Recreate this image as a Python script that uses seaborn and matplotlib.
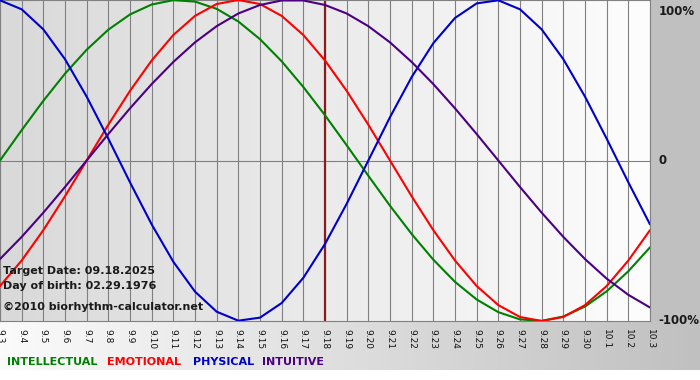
"""Biorhythm chart, 09.03 - 10.03 around target date 09.18.2025."""

import matplotlib.pyplot as plt
from matplotlib.colors import LinearSegmentedColormap
import seaborn as sns
import pandas as pd
import numpy as np

# day labels on the x axis
dates = ["9.3", "9.4", "9.5", "9.6", "9.7", "9.8", "9.9", "9.10", "9.11", "9.12",
         "9.13", "9.14", "9.15", "9.16", "9.17", "9.18", "9.19", "9.20", "9.21",
         "9.22", "9.23", "9.24", "9.25", "9.26", "9.27", "9.28", "9.29", "9.30",
         "10.1", "10.2", "10.3"]

# daily cycle values (fraction of 100%)
physical = [0.998, 0.942, 0.817, 0.631, 0.398, 0.136, -0.136, -0.398, -0.631, -0.817,
            -0.942, -0.998, -0.979, -0.888, -0.731, -0.520, -0.270, 0.0, 0.270, 0.520,
            0.731, 0.888, 0.979, 0.998, 0.942, 0.817, 0.631, 0.398, 0.136, -0.136, -0.398]
emotional = [-0.782, -0.623, -0.434, -0.223, 0.0, 0.223, 0.434, 0.623, 0.782, 0.901,
             0.975, 1.0, 0.975, 0.901, 0.782, 0.623, 0.434, 0.223, 0.0, -0.223,
             -0.434, -0.623, -0.782, -0.901, -0.975, -1.0, -0.975, -0.901, -0.782, -0.623, -0.434]
intellectual = [0.0, 0.189, 0.372, 0.541, 0.690, 0.815, 0.910, 0.972, 0.999, 0.990,
                0.945, 0.866, 0.756, 0.618, 0.458, 0.282, 0.095, -0.095, -0.282, -0.458,
                -0.618, -0.756, -0.866, -0.945, -0.990, -0.999, -0.972, -0.910, -0.815, -0.690, -0.541]
intuitive = [-0.614, -0.476, -0.325, -0.165, 0.0, 0.165, 0.325, 0.476, 0.614, 0.736,
             0.837, 0.916, 0.969, 0.997, 0.997, 0.969, 0.916, 0.837, 0.736, 0.614,
             0.476, 0.325, 0.165, 0.0, -0.165, -0.325, -0.476, -0.614, -0.736, -0.837, -0.916]

target_label = "9.18"
names = ["INTELLECTUAL", "EMOTIONAL", "PHYSICAL", "INTUITIVE"]
colors = {"INTELLECTUAL": "#008000", "EMOTIONAL": "#ff0000",
          "PHYSICAL": "#0000cc", "INTUITIVE": "#4b0082"}

day = list(range(len(dates)))
df = pd.concat([
    pd.DataFrame({"day": day, "value": vals, "rhythm": name})
    for name, vals in zip(names, [intellectual, emotional, physical, intuitive])
])

sns.set_style("white")
plt.rcParams["font.family"] = ["DejaVu Sans"]

W, H = 700, 380
fig = plt.figure(figsize=(W / 100, H / 100), dpi=100, facecolor="#c0c0c0")

# white bottom band and grey gradient strip under the plot
fig.patches.append(plt.Rectangle((0, 0), 1, 10 / H, transform=fig.transFigure,
                                 color="white", zorder=-3))
strip = fig.add_axes([0, 10 / H, 1, 49 / H], zorder=-2)
strip.imshow(np.linspace(0, 1, 256)[None, :], aspect="auto", extent=(0, 1, 0, 1),
             cmap=LinearSegmentedColormap.from_list("s", ["#fbfbfb", "#c0c0c0"]))
strip.axis("off")

ax = fig.add_axes([0, 59 / H, 650 / W, 321 / H])
ax.imshow(np.linspace(0, 1, 256)[None, :], aspect="auto", extent=(0, day[-1], -1, 1),
          cmap=LinearSegmentedColormap.from_list("p", ["#d9d9d9", "#fdfdfd"]), zorder=0)

sns.lineplot(data=df, x="day", y="value", hue="rhythm", palette=colors,
             hue_order=names, legend=False, lw=1.5, ax=ax, zorder=3)

ax.set_xlim(0, day[-1])
ax.set_ylim(-1, 1)
ax.set_xticks(day)
ax.set_xticklabels(dates, rotation=270, fontsize=6.5, va="top", ha="center",
                   color="#111111")
ax.tick_params(axis="x", length=4, width=1, color="#808080", pad=2)
ax.set_yticks([])
ax.set_xlabel("")
ax.set_ylabel("")
for d in day:
    ax.axvline(d, color="#808080", lw=0.8, zorder=1)
ax.axhline(0, color="#808080", lw=0.8, zorder=1)
for s in ax.spines.values():
    s.set_color("#808080")
    s.set_linewidth(0.8)

ax.axvline(dates.index(target_label), color="#8b1c1c", lw=1.6, zorder=2)

# percent labels on the right
for val, lab, dy in [(1, "100%", -8), (0, "0", 0), (-1, "-100%", 0)]:
    ax.annotate(lab, xy=(1, val), xycoords=("axes fraction", "data"),
                xytext=(6, dy), textcoords="offset points", fontsize=8.5,
                fontweight="bold", va="center", ha="left", color="#1a1a1a",
                annotation_clip=False)

info = ["Target Date: 09.18.2025", "Day of birth: 02.29.1976",
        "\u00a92010 biorhythm-calculator.net"]
for txt, y in zip(info, [0.156, 0.109, 0.044]):
    ax.text(0.005, y, txt, transform=ax.transAxes, fontsize=8, fontweight="bold",
            color="#1a1a1a", va="center", ha="left", zorder=5)

# coloured legend words
for name, x in zip(names, [7, 107, 193, 262]):
    fig.text(x / W, 1 - 362 / H, name, color=colors[name], fontsize=8,
             fontweight="bold", va="center", ha="left")

fig.savefig("out.png", dpi=100, facecolor=fig.get_facecolor())
